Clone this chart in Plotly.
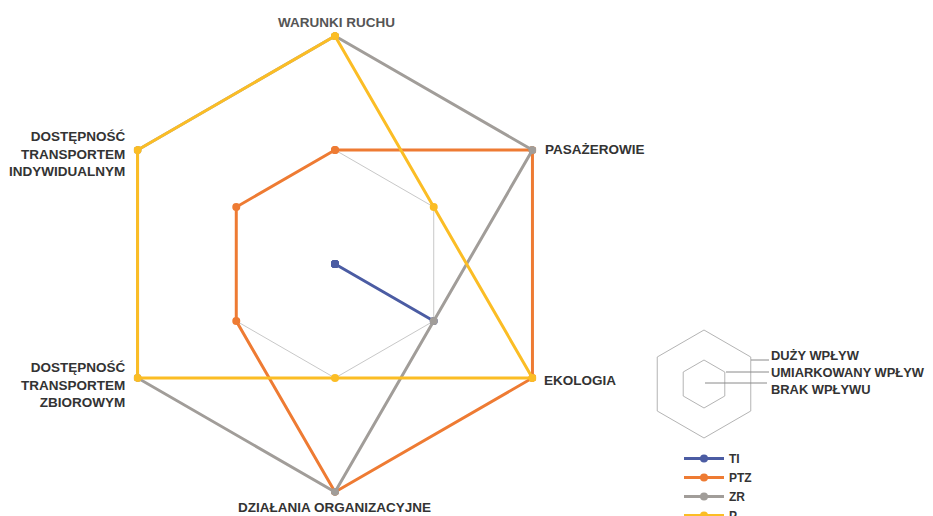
import plotly.graph_objects as go

OFF = 8  # page body margin offset of the figure inside the browser window
W, H = 933 - OFF, 516 - OFF

categories = ["WARUNKI RUCHU", "PASAŻEROWIE", "EKOLOGIA", "DZIAŁANIA ORGANIZACYJNE",
              "DOSTĘPNOŚĆ TRANSPORTEM ZBIOROWYM", "DOSTĘPNOŚĆ TRANSPORTEM INDYWIDUALNYM"]
series_names = ["TI", "PTZ", "ZR", "P"]
ti_values = [0, 0, 1, 0, 0, 0]
ptz_values = [1, 2, 2, 2, 1, 1]
zr_values = [2, 2, 1, 2, 2, 2]
p_values = [2, 1, 2, 1, 2, 2]
colors = ["#4b5ca3", "#ee7b33", "#a19d99", "#fbbd25"]
level_labels = ["DUŻY WPŁYW", "UMIARKOWANY WPŁYW", "BRAK WPŁYWU"]

FONT = "Liberation Sans, Arial, sans-serif"
TXT = "#333333"

def px(x):
    return (x - OFF) / W

def py(y):
    return 1 - (y - OFF) / H

fig = go.Figure()
for name, vals, col in zip(series_names, [ti_values, ptz_values, zr_values, p_values], colors):
    fig.add_trace(go.Scatterpolar(
        r=vals + vals[:1], theta=categories + categories[:1],
        mode="lines+markers", name=name, cliponaxis=True,
        line=dict(color=col, width=3), marker=dict(color=col, size=8),
        subplot="polar"))

# key hexagon (second polar)
fig.add_trace(go.Scatterpolar(r=[0.5], theta=[categories[0]], mode="markers",
                              marker=dict(size=1, color="rgba(0,0,0,0)"),
                              showlegend=False, hoverinfo="skip", subplot="polar2"))

cx, cy, R = 335, 264, 228
kx, ky, kR = 704, 384, 54
RMIN, RMAX = 0, 2.04
Rd = R * (RMAX - RMIN) / (2 - RMIN)

def angular(showline):
    return dict(type="category", categoryarray=categories, direction="clockwise",
                rotation=90, showticklabels=False, ticks="", showgrid=False,
                showline=showline, linecolor="#b4b4b4", linewidth=1)

fig.update_layout(
    width=W, height=H, margin=dict(l=0, r=0, t=0, b=0, autoexpand=False),
    paper_bgcolor="white", plot_bgcolor="white",
    polar=dict(
        domain=dict(x=[px(cx - Rd), px(cx + Rd)], y=[py(cy + Rd), py(cy - Rd)]),
        gridshape="linear", bgcolor="white",
        radialaxis=dict(range=[RMIN, RMAX], tickvals=[1], showticklabels=False, ticks="",
                        showline=False, gridcolor="#c8c8c8", gridwidth=1),
        angularaxis=angular(False)),
    polar2=dict(
        domain=dict(x=[px(kx - kR), px(kx + kR)], y=[py(ky + kR), py(ky - kR)]),
        gridshape="linear", bgcolor="white",
        radialaxis=dict(range=[0, 2.25], tickvals=[1], showticklabels=False, ticks="",
                        showline=False, gridcolor="#b4b4b4", gridwidth=1),
        angularaxis=angular(True)),
    showlegend=True,
    legend=dict(x=px(679), y=py(444), xanchor="left", yanchor="top",
                font=dict(family=FONT, size=12, color=TXT, weight="bold"),
                bgcolor="rgba(0,0,0,0)", tracegroupgap=0, itemwidth=40),
    font=dict(family=FONT),
)

def ann(text, x, y, xanchor="center", align="center", color=TXT, size=13.5):
    fig.add_annotation(text=text, x=px(x), y=py(y), xref="paper", yref="paper",
                       xanchor=xanchor, yanchor="middle", align=align, showarrow=False,
                       font=dict(family=FONT, size=size, color=color, weight="bold"))

ann("WARUNKI RUCHU", 336, 23, color="#555555")
ann("PASAŻEROWIE", 543, 150, xanchor="left")
ann("EKOLOGIA", 542, 380, xanchor="left")
ann("DZIAŁANIA ORGANIZACYJNE", 334, 507)
ann("DOSTĘPNOŚĆ<br>TRANSPORTEM<br>INDYWIDUALNYM", 127, 154, xanchor="right", align="right")
ann("DOSTĘPNOŚĆ<br>TRANSPORTEM<br>ZBIOROWYM", 127, 385, xanchor="right", align="right")

# key labels + leader lines
key_y = [355, 372, 389]
for lab, yy in zip(level_labels, key_y):
    ann(lab, 769, yy, xanchor="left", size=12.9)
leaders = [(751, 360, 769), (726, 372, 769), (705, 383, 767)]
for x0, y0, x1 in leaders:
    fig.add_shape(type="line", xref="paper", yref="paper",
                  x0=px(x0), y0=py(y0), x1=px(x1), y1=py(y0),
                  line=dict(color="#8a8a8a", width=1))

fig.write_html("out.html")
